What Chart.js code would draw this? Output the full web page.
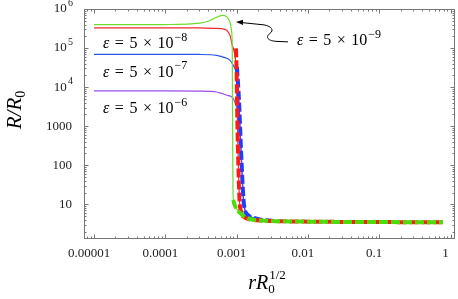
<!DOCTYPE html>
<html>
<head>
<meta charset="utf-8">
<script src="https://cdn.jsdelivr.net/npm/chart.js@4/dist/chart.umd.min.js"></script>
<style>
  html, body { margin: 0; padding: 0; background: #fff; }
</style>
</head>
<body>
<canvas id="chart" width="458" height="299"></canvas>
<script>
// axis ticks
const xTicks = [1e-5, 1e-4, 1e-3, 1e-2, 1e-1, 1];
const xTickLabels = ['0.00001', '0.0001', '0.001', '0.01', '0.1', '1'];
const yTicks = [10, 100, 1000, 1e4, 1e5, 1e6];
const yTickLabels = ['10', '100', '1000', '10', '10', '10'];
const yTickExps = ['', '', '', '4', '5', '6'];

// thin curves (numerical solutions)
const greenX = [1e-5, 3.2e-5, 1e-4, 3.07e-4, 4.24e-4, 4.98e-4, 5.85e-4, 6.44e-4, 7.1e-4, 7.57e-4, 8.08e-4, 8.48e-4, 8.7e-4, 8.75e-4, 8.82e-4, 8.9e-4, 9.05e-4, 9.5e-4, 1.116e-3, 1.54e-3, 2.5e-3, 5.6e-3, 0.02, 0.1, 0.785];
const greenY = [3.96e5, 3.97e5, 4.0e5, 4.35e5, 5.09e5, 5.9e5, 6.64e5, 6.84e5, 6.5e5, 5.74e5, 4.53e5, 2.83e5, 8.7e4, 4.6e3, 244, 23.2, 12.9, 9.05, 6.36, 4.47, 3.8, 3.64, 3.55, 3.5, 3.47];

const redX = [1e-5, 1e-4, 3e-4, 5e-4, 6.18e-4, 7.26e-4, 8.08e-4, 8.7e-4, 9.28e-4, 9.9e-4, 1.013e-3, 1.046e-3, 1.098e-3, 1.153e-3, 1.27e-3, 1.54e-3, 2.13e-3, 5.6e-3, 0.02, 0.1, 0.785];
const redY = [3.3e5, 3.3e5, 3.28e5, 3.2e5, 3.13e5, 2.83e5, 2.11e5, 1.17e5, 7.9e4, 2.5e4, 4.6e3, 244, 12.9, 6.36, 4.73, 4.09, 3.86, 3.64, 3.55, 3.5, 3.47];

const blueX = [1e-5, 1e-4, 3e-4, 5.26e-4, 6.87e-4, 8.08e-4, 8.99e-4, 9.6e-4, 1.03e-3, 1.08e-3, 1.153e-3, 1.25e-3, 1.31e-3, 1.445e-3, 1.75e-3, 2.27e-3, 5.6e-3, 0.02, 0.1, 0.785];
const blueY = [6.9e4, 6.9e4, 6.85e4, 6.5e4, 5.68e4, 4.85e4, 3.6e4, 2.8e4, 1.5e4, 4.6e3, 244, 12.9, 7.1, 5.3, 4.47, 3.97, 3.64, 3.55, 3.5, 3.47];

const purpleX = [1e-5, 1e-4, 3e-4, 5.26e-4, 6.24e-4, 7.26e-4, 8.61e-4, 9.59e-4, 1.02e-3, 1.1e-3, 1.153e-3, 1.25e-3, 1.31e-3, 1.445e-3, 1.75e-3, 2.27e-3, 5.6e-3, 0.02, 0.1, 0.785];
const purpleY = [7.98e3, 7.98e3, 7.9e3, 7.5e3, 6.84e3, 6.19e3, 5.6e3, 3.87e3, 2.6e3, 1.2e3, 244, 12.9, 7.1, 5.3, 4.47, 3.97, 3.64, 3.55, 3.5, 3.47];

// thick dashed curves (approximations)
const redDashX = [9.8e-4, 1.0e-3, 1.013e-3, 1.046e-3, 1.098e-3, 1.153e-3, 1.27e-3, 1.54e-3, 2.13e-3, 5.6e-3, 0.02, 0.1, 0.785];
const redDashY = [9.8e4, 2.5e4, 4.6e3, 244, 12.9, 6.36, 4.73, 4.09, 3.86, 3.64, 3.55, 3.5, 3.47];

const blueDashX = [1.01e-3, 1.08e-3, 1.153e-3, 1.25e-3, 1.31e-3, 1.445e-3, 1.75e-3, 2.27e-3, 3.2e-3];
const blueDashY = [3.3e4, 4.6e3, 244, 12.9, 7.1, 5.3, 4.47, 3.97, 3.78];

const greenDashX = [9.0e-4, 9.19e-4, 9.81e-4, 1.116e-3, 1.31e-3, 1.64e-3, 2.5e-3, 5.6e-3, 0.02, 0.1, 0.785];
const greenDashY = [13, 10.8, 8.05, 6.0, 4.73, 4.09, 3.79, 3.64, 3.55, 3.5, 3.47];

const SERIF = '"Liberation Serif", "DejaVu Serif", serif';

const pts = (xs, ys) => xs.map((x, i) => ({ x: x, y: ys[i] }));

function thin(data, color, order) {
    return { data: data, borderColor: color, borderWidth: 1.2, pointRadius: 0,
             cubicInterpolationMode: 'monotone', order: order };
}
function dashed(data, color, order) {
    return { data: data, borderColor: color, borderWidth: 4, borderDash: [9, 3],
             pointRadius: 0, cubicInterpolationMode: 'monotone', order: order };
}

function logMarks(min, max) {
    const out = [];
    for (let e = Math.floor(Math.log10(min)); e <= Math.ceil(Math.log10(max)); e++) {
        for (let m = 1; m < 10; m++) {
            const v = m * Math.pow(10, e);
            if (v >= min && v <= max) out.push({ v: v, major: m === 1 });
        }
    }
    return out;
}

// epsilon label with exponent
function epsLabel(ctx, x, y, exp) {
    const gap = 5.5;
    ctx.textBaseline = 'middle';
    ctx.textAlign = 'left';
    ctx.fillStyle = '#000';
    ctx.font = 'italic 16px ' + SERIF;
    ctx.fillText('ε', x, y);
    let cx = x + ctx.measureText('ε').width + gap;
    ctx.font = '16px ' + SERIF;
    ['=', '5', '×'].forEach(s => {
        ctx.fillText(s, cx, y);
        cx += ctx.measureText(s).width + gap;
    });
    ctx.fillText('10', cx, y);
    cx += ctx.measureText('10').width + 1;
    ctx.font = '12px ' + SERIF;
    ctx.fillText('−' + exp, cx, y - 6);
}

const decor = {
    id: 'decor',
    beforeDatasetsDraw(chart) {
        const { ctx, chartArea: a, scales } = chart;
        const xs = scales.x, ys = scales.y;
        ctx.save();
        ctx.strokeStyle = '#777';
        ctx.lineWidth = 1;
        ctx.strokeRect(a.left + 0.5, a.top + 0.5, a.right - a.left - 1, a.bottom - a.top - 1);
        ctx.beginPath();
        logMarks(xs.min, xs.max).forEach(t => {
            const px = Math.round(xs.getPixelForValue(t.v)) + 0.5;
            const len = t.major ? 4.5 : 2.5;
            ctx.moveTo(px, a.bottom); ctx.lineTo(px, a.bottom - len);
            ctx.moveTo(px, a.top); ctx.lineTo(px, a.top + len);
        });
        logMarks(ys.min, ys.max).forEach(t => {
            const py = Math.round(ys.getPixelForValue(t.v)) + 0.5;
            const len = t.major ? 4.5 : 2.5;
            ctx.moveTo(a.left, py); ctx.lineTo(a.left + len, py);
            ctx.moveTo(a.right, py); ctx.lineTo(a.right - len, py);
        });
        ctx.stroke();

        // exponents of the y tick labels 10^4 .. 10^6
        ctx.fillStyle = '#222';
        ctx.font = '10px ' + SERIF;
        ctx.textAlign = 'left';
        ctx.textBaseline = 'middle';
        yTicks.forEach((v, i) => {
            if (yTickExps[i]) ctx.fillText(yTickExps[i], 68, ys.getPixelForValue(v) - 6);
        });
        ctx.restore();
    },
    afterDatasetsDraw(chart) {
        const { ctx, chartArea: a, scales } = chart;
        const xs = scales.x, ys = scales.y;
        const P = (x, y) => [xs.getPixelForValue(x), ys.getPixelForValue(y)];
        ctx.save();

        let p = P(1.34e-5, 1.32e5); epsLabel(ctx, p[0], p[1], '8');
        p = P(1.34e-5, 2.39e4); epsLabel(ctx, p[0], p[1], '7');
        p = P(1.34e-5, 2.8e3); epsLabel(ctx, p[0], p[1], '6');
        p = P(7.03e-3, 1.57e5); epsLabel(ctx, p[0], p[1], '9');

        // wiggly arrow to the green peak
        const s = P(5.61e-3, 1.44e5);
        const tip = P(9.81e-4, 4.67e5);
        ctx.strokeStyle = '#000';
        ctx.fillStyle = '#000';
        ctx.lineWidth = 1;
        ctx.beginPath();
        ctx.moveTo(s[0] - 2, s[1]);
        ctx.lineTo(s[0] - 14, s[1] - 0.5);
        ctx.bezierCurveTo(s[0] - 24, s[1] - 1.5, s[0] - 24, s[1] - 5.5, s[0] - 20, s[1] - 8.5);
        ctx.bezierCurveTo(s[0] - 16, s[1] - 11.5, s[0] - 18, s[1] - 15.5, s[0] - 26, s[1] - 17);
        ctx.lineTo(tip[0] + 6, tip[1] + 0.7);
        ctx.stroke();
        ctx.beginPath();
        ctx.moveTo(tip[0], tip[1]);
        ctx.lineTo(tip[0] + 7, tip[1] - 2.2);
        ctx.lineTo(tip[0] + 7, tip[1] + 3.2);
        ctx.closePath();
        ctx.fill();

        // axis titles
        ctx.fillStyle = '#000';
        ctx.textBaseline = 'alphabetic';
        ctx.textAlign = 'left';
        // y title  R/R0
        ctx.save();
        ctx.translate(21, 110);
        ctx.rotate(-Math.PI / 2);
        ctx.font = 'italic 21px ' + SERIF;
        const yt = 'R/R';
        const wyt = ctx.measureText(yt).width;
        ctx.font = '14px ' + SERIF;
        const w0 = ctx.measureText('0').width;
        const y0 = -(wyt + w0) / 2;
        ctx.font = 'italic 21px ' + SERIF;
        ctx.fillText(yt, y0, 0);
        ctx.font = '14px ' + SERIF;
        ctx.fillText('0', y0 + wyt, 4);
        ctx.restore();

        // x title  r R0^(1/2)
        const cxm = (a.left + a.right) / 2;
        ctx.font = 'italic 20px ' + SERIF;
        const wrR = ctx.measureText('rR').width;
        ctx.font = '13px ' + SERIF;
        const wh = ctx.measureText('1/2').width;
        const x0 = cxm - (wrR + wh) / 2 - 3;
        const base = 289;
        ctx.font = 'italic 20px ' + SERIF;
        ctx.fillText('rR', x0, base);
        ctx.font = '13px ' + SERIF;
        ctx.fillText('0', x0 + wrR, base + 4);
        ctx.fillText('1/2', x0 + wrR + 1, base - 10);
        ctx.restore();
    }
};

new Chart(document.getElementById('chart'), {
    type: 'line',
    data: {
        datasets: [
            thin(pts(purpleX, purpleY), '#9b4dea', 9),
            thin(pts(blueX, blueY), '#2a55f0', 8),
            thin(pts(redX, redY), '#ee2a2a', 7),
            thin(pts(greenX, greenY), '#6fdc2c', 6),
            dashed(pts(blueDashX, blueDashY), '#1f3cff', 3),
            dashed(pts(redDashX, redDashY), '#ff1a1a', 2),
            dashed(pts(greenDashX, greenDashY), '#4ddc0a', 1)
        ]
    },
    options: {
        responsive: false,
        devicePixelRatio: 1,
        animation: false,
        layout: { padding: { top: 9, right: 3, left: 0, bottom: 0 } },
        plugins: { legend: { display: false }, tooltip: { enabled: false } },
        scales: {
            x: {
                type: 'logarithmic',
                min: 7.24e-6,
                max: 1.156,
                grid: { display: false, drawTicks: false },
                border: { display: false },
                afterBuildTicks: s => { s.ticks = xTicks.map(v => ({ value: v })); },
                afterFit: s => { s.height = 60; s.paddingLeft = 0; s.paddingRight = 0; },
                ticks: {
                    autoSkip: false,
                    maxRotation: 0,
                    padding: 7,
                    labelOffset: -5,
                    color: '#222',
                    font: { family: SERIF, size: 13 },
                    callback: v => xTickLabels[xTicks.indexOf(v)]
                }
            },
            y: {
                type: 'logarithmic',
                min: 1.29,
                max: 1e6,
                grid: { display: false, drawTicks: false },
                border: { display: false },
                afterBuildTicks: s => { s.ticks = yTicks.map(v => ({ value: v })); },
                afterFit: s => { s.width = 84; s.paddingTop = 0; s.paddingBottom = 0; },
                ticks: {
                    autoSkip: false,
                    padding: 12,
                    color: '#222',
                    font: { family: SERIF, size: 13 },
                    callback: (v, i) => {
                        const k = yTicks.indexOf(v);
                        return yTickExps[k] ? yTickLabels[k] + '\u2009\u2009' : yTickLabels[k];
                    }
                }
            }
        }
    },
    plugins: [decor]
});
</script>
</body>
</html>
